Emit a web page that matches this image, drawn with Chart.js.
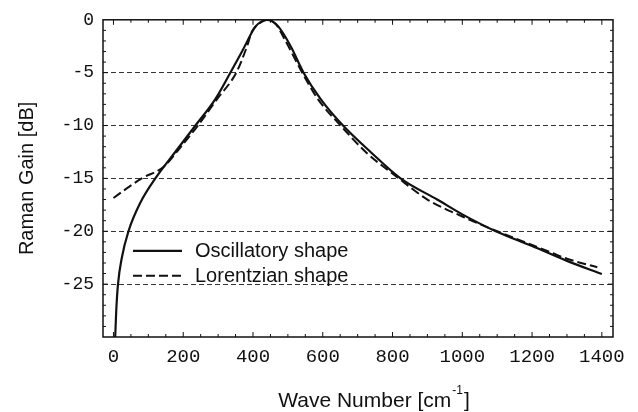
<!DOCTYPE html>
<html>
<head>
<meta charset="utf-8">
<script src="https://cdn.jsdelivr.net/npm/chart.js@4.4.0/dist/chart.umd.min.js"></script>
<style>
  html, body { margin: 0; padding: 0; background: #fff; }
  #grafico { display: block; }
</style>
</head>
<body>
<canvas id="grafico" width="638" height="412"></canvas>
<script>
// ==================== DATOS ====================
const xTicks = [0, 200, 400, 600, 800, 1000, 1200, 1400];
const yTicks = [0, -5, -10, -15, -20, -25];
const seriesNames = ['Oscillatory shape', 'Lorentzian shape'];
const xTitle = 'Wave Number [cm';
const xTitleSup = '-1';
const yTitle = 'Raman Gain [dB]';

// curva oscilatoria (línea continua)
const oscX = [5, 8, 13, 24, 43, 77, 120, 177, 235, 292, 335, 370, 407, 425, 440, 455, 473, 508, 545, 594, 658, 737, 823, 928, 1000, 1096, 1200, 1300, 1400];
const oscY = [-30, -27.5, -25, -22.5, -20, -17.3, -15, -12.5, -10, -7.5, -5, -2.9, -0.65, -0.15, 0, -0.15, -0.65, -2.5, -5, -7.5, -10, -12.5, -15, -17, -18.4, -20, -21.4, -22.8, -24.05];

// curva lorentziana (línea discontinua)
const lorX = [0, 40, 81, 144, 191, 242, 297, 352, 383, 397, 420, 442, 465, 490, 541, 586, 651, 723, 818, 900, 1000, 1100, 1200, 1254, 1300, 1387];
const lorY = [-16.85, -15.9, -15, -13.9, -12.1, -10, -7.5, -5, -2.5, -1.1, -0.3, 0, -0.4, -1.8, -5, -7.5, -10, -12.5, -15, -17, -18.6, -20, -21.3, -22, -22.6, -23.4];

const puntos = (xs, ys) => xs.map((v, i) => ({ x: v, y: ys[i] }));

const sans = '"Liberation Sans", Arial, sans-serif';
const mono = '"Liberation Mono", "Courier New", monospace';
const tinta = '#111';

// ==================== MARCO, LEYENDA Y TÍTULOS ====================
const marco = {
  id: 'marco',
  afterDraw(chart) {
    const { ctx, chartArea: a, scales: { x, y } } = chart;
    ctx.save();
    ctx.strokeStyle = tinta;
    ctx.lineWidth = 1.5;
    ctx.strokeRect(a.left, a.top, a.right - a.left, a.bottom - a.top);

    // marcas hacia adentro
    ctx.lineWidth = 1;
    ctx.beginPath();
    for (let v = 0; v <= xTicks[xTicks.length - 1]; v += 50) {
      const px = x.getPixelForValue(v);
      const len = xTicks.includes(v) ? 5 : 3;
      ctx.moveTo(px, a.bottom); ctx.lineTo(px, a.bottom - len);
      ctx.moveTo(px, a.top); ctx.lineTo(px, a.top + len);
    }
    for (let v = -29; v <= -1; v++) {
      const py = y.getPixelForValue(v);
      const len = yTicks.includes(v) ? 5 : 3;
      ctx.moveTo(a.left, py); ctx.lineTo(a.left + len, py);
      ctx.moveTo(a.right, py); ctx.lineTo(a.right - len, py);
    }
    ctx.stroke();

    // leyenda
    ctx.font = '20px ' + sans;
    ctx.fillStyle = tinta;
    ctx.textBaseline = 'middle';
    ctx.textAlign = 'left';
    seriesNames.forEach((nombre, i) => {
      const yy = a.top + 231 + i * 25;
      ctx.beginPath();
      ctx.lineWidth = i === 0 ? 2.2 : 2;
      ctx.setLineDash(i === 0 ? [] : [9, 4]);
      ctx.moveTo(a.left + 30, yy);
      ctx.lineTo(a.left + 79, yy);
      ctx.stroke();
      ctx.setLineDash([]);
      ctx.fillText(nombre, a.left + 92, yy + 1);
    });

    // título eje x con superíndice
    ctx.textBaseline = 'alphabetic';
    ctx.font = '21px ' + sans;
    const w1 = ctx.measureText(xTitle).width;
    const w3 = ctx.measureText(']').width;
    ctx.font = '12px ' + sans;
    const w2 = ctx.measureText(xTitleSup).width;
    const x0 = (a.left + a.right) / 2 + 15 - (w1 + w2 + w3) / 2;
    ctx.font = '21px ' + sans;
    ctx.fillText(xTitle, x0, 407);
    ctx.font = '12px ' + sans;
    ctx.fillText(xTitleSup, x0 + w1 + 1, 394);
    ctx.font = '21px ' + sans;
    ctx.fillText(']', x0 + w1 + w2 + 2, 407);

    // título eje y
    ctx.translate(27, (a.top + a.bottom) / 2);
    ctx.rotate(-Math.PI / 2);
    ctx.textAlign = 'center';
    ctx.textBaseline = 'middle';
    ctx.font = '20px ' + sans;
    ctx.fillText(yTitle, 0, 0);
    ctx.restore();
  }
};

// ==================== GRÁFICO ====================
const ctx = document.getElementById('grafico').getContext('2d');
const grafico = new Chart(ctx, {
  type: 'scatter',
  data: {
    datasets: [
      {
        label: seriesNames[0],
        data: puntos(oscX, oscY),
        showLine: true,
        borderColor: tinta,
        borderWidth: 2.2,
        pointRadius: 0,
        cubicInterpolationMode: 'monotone'
      },
      {
        label: seriesNames[1],
        data: puntos(lorX, lorY),
        showLine: true,
        borderColor: tinta,
        borderWidth: 2,
        borderDash: [9, 4],
        pointRadius: 0,
        cubicInterpolationMode: 'monotone'
      }
    ]
  },
  options: {
    responsive: false,
    animation: false,
    layout: { padding: { left: 0, top: 13, right: 25, bottom: 0 } },
    plugins: { legend: { display: false }, tooltip: { enabled: false } },
    scales: {
      x: {
        type: 'linear',
        min: -30,
        max: 1432,
        afterBuildTicks: s => { s.ticks = xTicks.map(v => ({ value: v })); },
        afterFit: s => { s.height = 75; },
        grid: { display: false, drawTicks: false },
        border: { display: false },
        ticks: { color: tinta, padding: 9, maxRotation: 0, callback: v => String(v), font: { family: mono, size: 19 } }
      },
      y: {
        type: 'linear',
        min: -30,
        max: 0,
        afterBuildTicks: s => { s.ticks = yTicks.map(v => ({ value: v })); },
        afterFit: s => { s.width = 103; },
        grid: {
          drawTicks: false,
          lineWidth: 1,
          color: c => (c.tick && c.tick.value === 0) ? 'rgba(0,0,0,0)' : '#333'
        },
        border: { display: false, dash: [5, 3] },
        ticks: { color: tinta, padding: 9, callback: v => String(v), font: { family: mono, size: 18 } }
      }
    }
  },
  plugins: [marco]
});
</script>
</body>
</html>
